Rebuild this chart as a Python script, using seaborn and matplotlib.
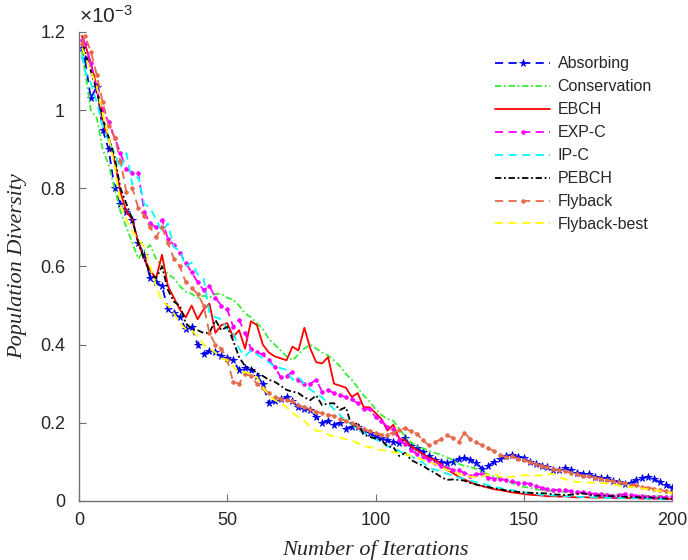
import numpy as np
import pandas as pd
import matplotlib
matplotlib.use("Agg")
import matplotlib.pyplot as plt
import seaborn as sns

# iterations: 1, 2, 4, ..., 200
iterations = [1] + list(range(2, 201, 2))

absorbing = [1.16, 1.13, 1.03, 1.06, 0.95, 0.90, 0.80, 0.76, 0.74, 0.72, 0.66,
             0.63, 0.57, 0.56, 0.55, 0.49, 0.48, 0.47, 0.44, 0.445, 0.40,
             0.375, 0.385, 0.38, 0.37, 0.365, 0.36, 0.335, 0.34, 0.335, 0.32,
             0.30, 0.25, 0.255, 0.26, 0.265, 0.255, 0.24, 0.235, 0.233, 0.215,
             0.20, 0.205, 0.195, 0.20, 0.185, 0.19, 0.19, 0.18, 0.175, 0.165,
             0.16, 0.155, 0.15, 0.148, 0.16, 0.14, 0.135, 0.125, 0.115, 0.105,
             0.10, 0.097, 0.10, 0.108, 0.11, 0.105, 0.098, 0.082, 0.09, 0.10,
             0.108, 0.115, 0.118, 0.113, 0.11, 0.10, 0.095, 0.09, 0.087, 0.08,
             0.08, 0.084, 0.078, 0.072, 0.07, 0.068, 0.062, 0.06, 0.058, 0.052,
             0.048, 0.043, 0.046, 0.054, 0.058, 0.062, 0.055, 0.048, 0.042, 0.034]

conservation = [1.15, 1.10, 1.00, 0.98, 0.90, 0.86, 0.80, 0.74, 0.70, 0.66, 0.62,
                0.64, 0.655, 0.62, 0.60, 0.58, 0.57, 0.55, 0.535, 0.53, 0.52,
                0.525, 0.52, 0.53, 0.53, 0.52, 0.515, 0.50, 0.48, 0.47, 0.455,
                0.44, 0.415, 0.40, 0.385, 0.37, 0.36, 0.375, 0.39, 0.40, 0.39,
                0.38, 0.372, 0.36, 0.345, 0.325, 0.31, 0.29, 0.27, 0.255, 0.235,
                0.22, 0.21, 0.205, 0.185, 0.165, 0.15, 0.14, 0.135, 0.128, 0.123,
                0.118, 0.112, 0.105, 0.095, 0.09, 0.087, 0.082, 0.075, 0.068, 0.062,
                0.057, 0.052, 0.046, 0.04, 0.036, 0.034, 0.03, 0.028, 0.026, 0.025,
                0.024, 0.023, 0.022, 0.02, 0.02, 0.019, 0.018, 0.018, 0.017, 0.016,
                0.016, 0.015, 0.015, 0.014, 0.014, 0.013, 0.013, 0.012, 0.012, 0.012]

ebch = [1.19, 1.17, 1.12, 1.06, 0.97, 0.93, 0.87, 0.79, 0.74, 0.72, 0.66,
        0.62, 0.59, 0.57, 0.63, 0.55, 0.52, 0.49, 0.47, 0.50, 0.465,
        0.49, 0.505, 0.43, 0.45, 0.455, 0.42, 0.437, 0.39, 0.46, 0.45,
        0.40, 0.38, 0.37, 0.365, 0.36, 0.395, 0.385, 0.443, 0.39, 0.355,
        0.352, 0.368, 0.30, 0.295, 0.29, 0.266, 0.276, 0.24, 0.24, 0.225,
        0.21, 0.18, 0.195, 0.16, 0.155, 0.14, 0.13, 0.12, 0.11, 0.105,
        0.095, 0.08, 0.072, 0.062, 0.055, 0.048, 0.042, 0.038, 0.034, 0.03,
        0.028, 0.025, 0.022, 0.02, 0.018, 0.016, 0.015, 0.014, 0.012, 0.012,
        0.011, 0.012, 0.010, 0.009, 0.010, 0.009, 0.008, 0.009, 0.008, 0.008,
        0.007, 0.008, 0.007, 0.007, 0.006, 0.007, 0.006, 0.006, 0.006, 0.005]

expc = [1.18, 1.17, 1.12, 1.05, 1.00, 0.97, 0.93, 0.89, 0.85, 0.84, 0.84,
        0.74, 0.71, 0.70, 0.72, 0.67, 0.655, 0.635, 0.61, 0.585, 0.56,
        0.54, 0.55, 0.52, 0.50, 0.49, 0.446, 0.463, 0.43, 0.39, 0.38,
        0.375, 0.36, 0.343, 0.317, 0.32, 0.33, 0.31, 0.30, 0.30, 0.31,
        0.28, 0.285, 0.275, 0.27, 0.266, 0.26, 0.25, 0.235, 0.235, 0.215,
        0.205, 0.19, 0.185, 0.155, 0.145, 0.13, 0.12, 0.112, 0.105, 0.097,
        0.09, 0.085, 0.08, 0.078, 0.072, 0.065, 0.068, 0.07, 0.06, 0.057,
        0.055, 0.054, 0.05, 0.046, 0.046, 0.044, 0.038, 0.034, 0.03, 0.028,
        0.028, 0.027, 0.025, 0.022, 0.022, 0.02, 0.018, 0.017, 0.015, 0.014,
        0.015, 0.018, 0.016, 0.013, 0.012, 0.011, 0.011, 0.010, 0.010, 0.009]

ipc = [1.14, 1.10, 1.07, 1.02, 0.96, 0.92, 0.89, 0.85, 0.89, 0.81, 0.83,
       0.76, 0.75, 0.72, 0.69, 0.71, 0.65, 0.64, 0.60, 0.61, 0.58,
       0.57, 0.48, 0.47, 0.465, 0.44, 0.43, 0.39, 0.37, 0.385, 0.375,
       0.365, 0.355, 0.343, 0.34, 0.335, 0.31, 0.317, 0.30, 0.285, 0.275,
       0.265, 0.25, 0.235, 0.22, 0.205, 0.195, 0.18, 0.175, 0.165, 0.158,
       0.15, 0.14, 0.135, 0.128, 0.12, 0.115, 0.105, 0.098, 0.085, 0.08,
       0.075, 0.07, 0.066, 0.06, 0.056, 0.052, 0.048, 0.045, 0.04, 0.036,
       0.033, 0.03, 0.028, 0.025, 0.022, 0.02, 0.018, 0.016, 0.015, 0.014,
       0.013, 0.012, 0.012, 0.011, 0.010, 0.010, 0.009, 0.009, 0.008, 0.008,
       0.008, 0.007, 0.007, 0.007, 0.006, 0.006, 0.006, 0.005, 0.005, 0.005]

pebch = [1.17, 1.15, 1.10, 1.05, 0.98, 0.93, 0.88, 0.80, 0.76, 0.72, 0.66,
         0.62, 0.58, 0.57, 0.60, 0.54, 0.51, 0.50, 0.455, 0.44, 0.437,
         0.43, 0.43, 0.463, 0.437, 0.446, 0.41, 0.368, 0.345, 0.34, 0.327,
         0.32, 0.31, 0.305, 0.295, 0.284, 0.28, 0.276, 0.265, 0.258, 0.27,
         0.245, 0.25, 0.25, 0.233, 0.24, 0.19, 0.20, 0.17, 0.164, 0.16,
         0.156, 0.14, 0.138, 0.115, 0.123, 0.105, 0.097, 0.09, 0.08, 0.072,
         0.062, 0.054, 0.055, 0.054, 0.052, 0.046, 0.042, 0.038, 0.036, 0.032,
         0.03, 0.027, 0.025, 0.023, 0.022, 0.021, 0.02, 0.02, 0.019, 0.017,
         0.016, 0.015, 0.016, 0.018, 0.02, 0.016, 0.014, 0.013, 0.013, 0.012,
         0.012, 0.011, 0.010, 0.010, 0.009, 0.009, 0.008, 0.007, 0.006, 0.005]

flyback = [1.17, 1.19, 1.15, 1.09, 1.02, 0.96, 0.93, 0.87, 0.79, 0.80, 0.75,
           0.73, 0.70, 0.675, 0.70, 0.66, 0.62, 0.60, 0.56, 0.545, 0.53,
           0.50, 0.43, 0.40, 0.39, 0.36, 0.305, 0.30, 0.325, 0.32, 0.30,
           0.29, 0.275, 0.266, 0.262, 0.258, 0.255, 0.245, 0.24, 0.235, 0.228,
           0.225, 0.22, 0.218, 0.21, 0.205, 0.20, 0.19, 0.185, 0.178, 0.175,
           0.17, 0.17, 0.175, 0.182, 0.186, 0.178, 0.172, 0.155, 0.142, 0.15,
           0.158, 0.168, 0.162, 0.15, 0.175, 0.158, 0.15, 0.142, 0.135, 0.128,
           0.118, 0.112, 0.116, 0.108, 0.105, 0.10, 0.094, 0.09, 0.086, 0.082,
           0.079, 0.076, 0.072, 0.068, 0.065, 0.063, 0.06, 0.057, 0.054, 0.05,
           0.048, 0.045, 0.042, 0.04, 0.036, 0.034, 0.031, 0.028, 0.025, 0.022]

flyback_best = [1.16, 1.14, 1.10, 1.06, 0.99, 0.93, 0.86, 0.76, 0.72, 0.69, 0.67,
                0.65, 0.60, 0.55, 0.51, 0.50, 0.48, 0.455, 0.44, 0.437, 0.42,
                0.40, 0.39, 0.38, 0.365, 0.36, 0.345, 0.327, 0.33, 0.325, 0.317,
                0.29, 0.27, 0.258, 0.25, 0.24, 0.225, 0.215, 0.205, 0.19, 0.18,
                0.178, 0.17, 0.165, 0.162, 0.158, 0.155, 0.148, 0.14, 0.138, 0.133,
                0.13, 0.128, 0.125, 0.123, 0.12, 0.115, 0.112, 0.105, 0.10, 0.095,
                0.087, 0.08, 0.075, 0.07, 0.066, 0.062, 0.06, 0.063, 0.068, 0.07,
                0.062, 0.06, 0.062, 0.063, 0.066, 0.066, 0.065, 0.066, 0.068, 0.07,
                0.06, 0.056, 0.05, 0.049, 0.048, 0.047, 0.047, 0.046, 0.045, 0.043,
                0.04, 0.038, 0.036, 0.034, 0.032, 0.03, 0.028, 0.026, 0.023, 0.02]

labels = ["Absorbing", "Conservation", "EBCH", "EXP-C", "IP-C", "PEBCH",
          "Flyback", "Flyback-best"]
series = [absorbing, conservation, ebch, expc, ipc, pebch, flyback, flyback_best]
colors = ["#0000ee", "#33ee33", "#ff0000", "#ff00ff", "#00ffff", "#000000",
          "#e66a4a", "#ffff00"]
styles = [
    dict(dashes=(4.5, 3.0), marker="*", markersize=5.5),
    dict(dashes=(3.5, 1.5, 1.0, 1.5), marker=None),
    dict(dashes=None, marker=None),
    dict(dashes=(4.5, 3.0), marker="o", markersize=2.6),
    dict(dashes=(4.5, 3.0), marker=None),
    dict(dashes=(3.5, 1.5, 1.0, 1.5), marker=None),
    dict(dashes=(4.5, 3.0), marker="o", markersize=2.6),
    dict(dashes=(4.5, 3.0), marker=None),
]

sns.set_style("ticks")
plt.rcParams["font.family"] = ["Liberation Sans", "DejaVu Sans"]
plt.rcParams["mathtext.fontset"] = "custom"
plt.rcParams["mathtext.rm"] = "Liberation Sans"
plt.rcParams["mathtext.it"] = "Liberation Sans:italic"

fig = plt.figure(figsize=(6.88, 5.6), dpi=100)
ax = fig.add_axes([0.1148, 0.1054, 0.862, 0.8375])

for lab, vals, col, st in zip(labels, series, colors, styles):
    df = pd.DataFrame({"Iteration": iterations, "Diversity": vals})
    sns.lineplot(data=df, x="Iteration", y="Diversity", ax=ax, color=col,
                 label=lab, linewidth=1.3, marker=st["marker"],
                 markersize=st.get("markersize", 0), markeredgewidth=0.6,
                 markeredgecolor=col, markerfacecolor=col)
    line = ax.lines[-1]
    if st["dashes"] is not None:
        line.set_dashes(st["dashes"])
    else:
        line.set_linestyle("-")

ax.set_xlim(0, 200)
ax.set_ylim(0, 1.2)
ax.set_xticks([0, 50, 100, 150, 200])
ax.set_yticks([0, 0.2, 0.4, 0.6, 0.8, 1.0, 1.2])
ax.set_yticklabels(["0", "0.2", "0.4", "0.6", "0.8", "1", "1.2"])
ax.tick_params(direction="in", length=5, width=0.8, colors="#707070",
               labelcolor="#262626", labelsize=13)
ax.tick_params(axis="y", pad=10)
ax.tick_params(axis="x", pad=8)
for s in ["top", "right"]:
    ax.spines[s].set_visible(False)
for s in ["left", "bottom"]:
    ax.spines[s].set_color("#707070")
    ax.spines[s].set_linewidth(1.0)

ax.set_xlabel("Number of Iterations", fontsize=16, style="italic",
              family="Liberation Serif", color="#262626", labelpad=8)
ax.set_ylabel("Population Diversity", fontsize=16, style="italic",
              family="Liberation Serif", color="#262626", labelpad=9)

ax.text(0.0, 1.01, r"$\times10^{-3}$", transform=ax.transAxes,
        fontsize=15, color="#262626", ha="left", va="bottom")

leg = ax.legend(loc="upper left", bbox_to_anchor=(0.69, 0.962), frameon=False,
                fontsize=11.5, handlelength=3.5, handletextpad=0.45,
                labelspacing=0.5, numpoints=1, borderaxespad=0)

fig.savefig("out.png", dpi=100)
